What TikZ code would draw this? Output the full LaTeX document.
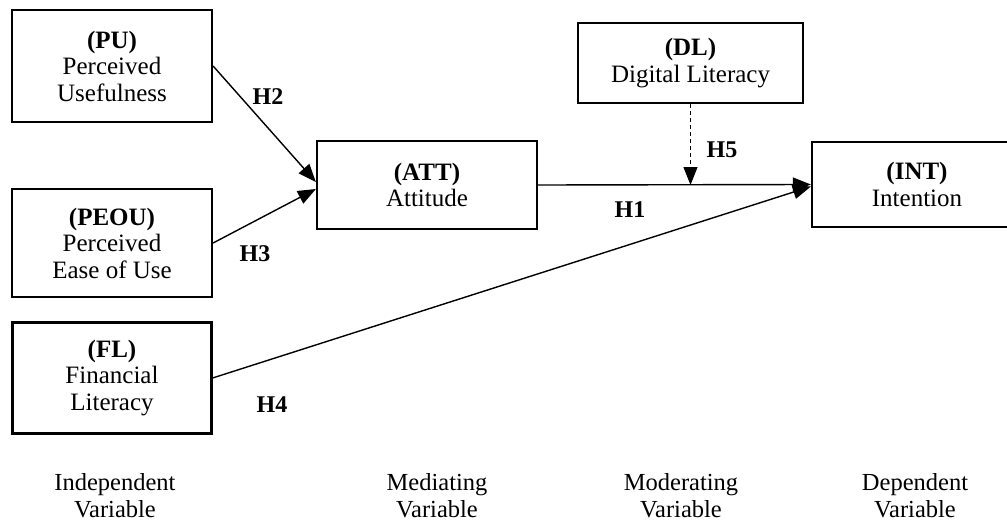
\documentclass[tikz,border=0pt]{standalone}
\usepackage{fontspec}
\setmainfont{Liberation Serif}
\usetikzlibrary{arrows.meta}
\begin{document}
\begin{tikzpicture}[x=1pt,y=-1pt,
  box/.style={draw, line width=2.2pt, align=center, inner sep=0pt, font=\fontsize{25}{26.5}\selectfont},
  conn/.style={line width=1.4pt, -{Triangle[length=18pt,width=14pt]}},
  hyp/.style={font=\fontsize{24}{26}\selectfont\bfseries},
  captext/.style={align=center, font=\fontsize{24.5}{27}\selectfont}]
\useasboundingbox (0,0) rectangle (1007,522);
\node[box, minimum width=200pt, minimum height=112pt] (pu) at (112,66) {\textbf{(PU)}\\Perceived\\Usefulness};
\node[box, minimum width=200pt, minimum height=108pt] (peou) at (112,243) {\textbf{(PEOU)}\\Perceived\\Ease of Use};
\node[box, minimum width=199pt, minimum height=111pt] (fl) at (112,378) {\textbf{(FL)}\\Financial\\Literacy};
\node[box, minimum width=220pt, minimum height=88pt] (att) at (427,185) {\textbf{(ATT)}\\Attitude};
\node[box, minimum width=225pt, minimum height=80pt] (dl) at (690.5,63) {\textbf{(DL)}\\Digital Literacy};
\node[box, minimum width=210pt, minimum height=85pt] (int) at (917,184.5) {\textbf{(INT)}\\Intention};
\draw[conn] (pu.east) -- ([yshift=3pt]att.west);
\draw[conn] (peou.east) -- ([yshift=-4pt]att.west);
\draw[conn] (att.east) -- (int.west);
\draw[conn] (fl.east) -- ([yshift=-2pt]int.west);
\coordinate (mod) at (dl.south |- att.east);
\draw[conn, dash pattern=on 4pt off 3pt] (dl.south) -- (mod);
\node[hyp] (h2) at (268,97) {H2};
\node[hyp] (h3) at (255,254) {H3};
\node[hyp] (h4) at (272,405) {H4};
\node[hyp] (h1) at (630,210) {H1};
\node[hyp] (h5) at (722,150) {H5};
\node[captext] (c1) at (115,496) {Independent\\Variable};
\node[captext] (c2) at (437,496) {Mediating\\Variable};
\node[captext] (c3) at (681,496) {Moderating\\Variable};
\node[captext] (c4) at (915,496) {Dependent\\Variable};
\end{tikzpicture}
\end{document}
